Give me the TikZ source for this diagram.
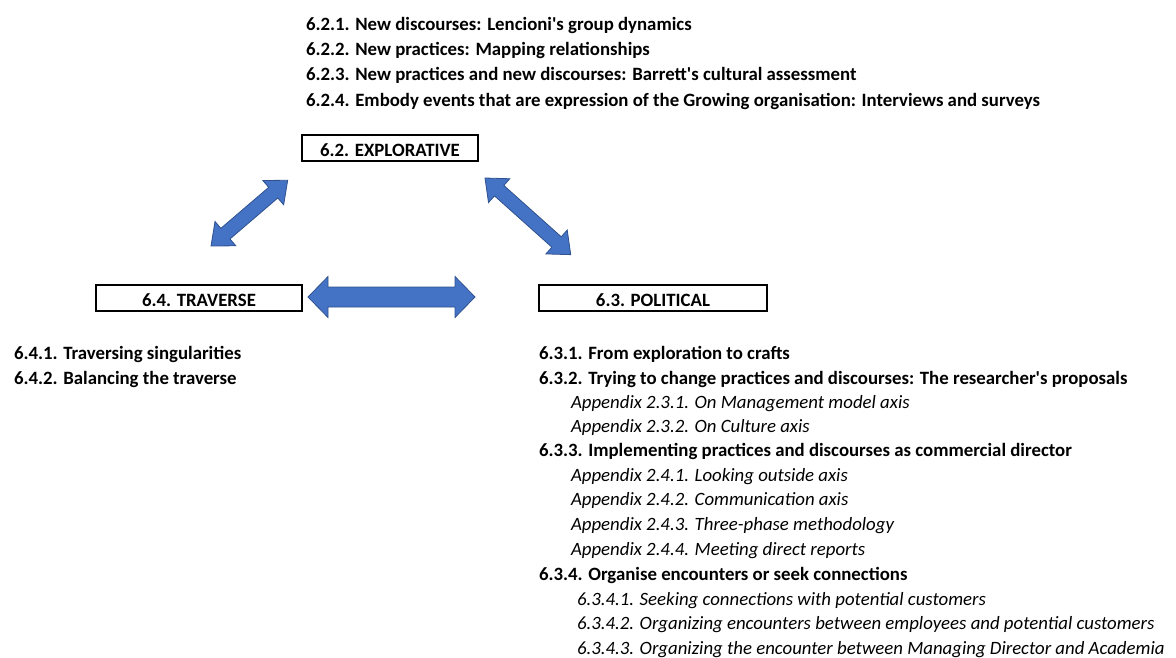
\documentclass[tikz,border=0pt]{standalone}
\usepackage{fontspec}
\setmainfont{Carlito}
\begin{document}
\begin{tikzpicture}[x=1pt,y=-1pt,
  every node/.style={inner sep=0pt, outer sep=0pt},
  txt/.style={font=\fontsize{18.8}{22}\selectfont, text height=15pt, text depth=3pt},
  item/.style={txt, anchor=west, font=\fontsize{18.8}{22}\selectfont\bfseries},
  sub/.style={txt, anchor=west, font=\fontsize{18.8}{22}\selectfont\itshape},
  stage/.style={draw=black, line width=1.3pt, font=\fontsize{18.8}{22}\selectfont\bfseries,
    text height=18pt, text depth=2pt, minimum height=26pt},
  pics/blockarrow/.style args={#1/#2/#3/#4}{code={
    \filldraw[fill=arrowfill, draw=arrowedge, line width=0.8pt, line join=miter]
      (0,0) -- (#4,#3) -- (#4,#2) -- (#1-#4,#2) -- (#1-#4,#3) -- (#1,0)
      -- (#1-#4,-#3) -- (#1-#4,-#2) -- (#4,-#2) -- (#4,-#3) -- cycle;
  }}
]
\definecolor{arrowfill}{HTML}{4472C4}
\definecolor{arrowedge}{HTML}{2F528F}
\useasboundingbox (0,0) rectangle (1176,657);

% the three stages
\node[stage, minimum width=176pt] (expl) at (390,148) {6.2. EXPLORATIVE};
\node[stage, minimum width=206pt] (trav) at (199,298) {6.4. TRAVERSE};
\node[stage, minimum width=228pt] (poli) at (653,298) {6.3. POLITICAL};

% block arrows between the stages
\pic at (308,297) {blockarrow=167/10/20.5/20};
\pic[rotate=40.6] at (211,246) {blockarrow=101/7/16/19};
\pic[rotate=-41.8] at (485,178) {blockarrow=115/7/16/19};

% explorative subsections
\node[item] (e1) at (306,24) {6.2.1. New discourses: Lencioni\textquotesingle s group dynamics};
\node[item] (e2) at (306,49) {6.2.2. New practices: Mapping relationships};
\node[item] (e3) at (306,74) {6.2.3. New practices and new discourses: Barrett\textquotesingle s cultural assessment};
\node[item] (e4) at (306,100) {6.2.4. Embody events that are expression of the Growing organisation: Interviews and surveys};

% traverse subsections
\node[item] (t1) at (14,353) {6.4.1. Traversing singularities};
\node[item] (t2) at (14,378) {6.4.2. Balancing the traverse};

% political subsections
\node[item] (p1) at (539,353) {6.3.1. From exploration to crafts};
\node[item] (p2) at (539,378) {6.3.2. Trying to change practices and discourses: The researcher\textquotesingle s proposals};
\node[sub] (p21) at (571,402) {Appendix 2.3.1. On Management model axis};
\node[sub] (p22) at (571,426) {Appendix 2.3.2. On Culture axis};
\node[item] (p3) at (539,450) {6.3.3. Implementing practices and discourses as commercial director};
\node[sub] (p31) at (571,475) {Appendix 2.4.1. Looking outside axis};
\node[sub] (p32) at (571,499) {Appendix 2.4.2. Communication axis};
\node[sub] (p33) at (571,524) {Appendix 2.4.3. Three-phase methodology};
\node[sub] (p34) at (571,549) {Appendix 2.4.4. Meeting direct reports};
\node[item] (p4) at (539,574) {6.3.4. Organise encounters or seek connections};
\node[sub] (p41) at (577,599) {6.3.4.1. Seeking connections with potential customers};
\node[sub] (p42) at (577,623) {6.3.4.2. Organizing encounters between employees and potential customers};
\node[sub] (p43) at (577,648) {6.3.4.3. Organizing the encounter between Managing Director and Academia};
\end{tikzpicture}
\end{document}
